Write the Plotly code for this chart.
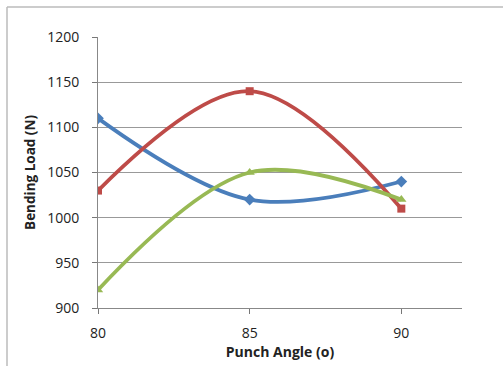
import plotly.graph_objects as go

angles = [80, 85, 90]
series_a = [1110, 1020, 1040]
series_b = [1030, 1140, 1010]
series_c = [920, 1050, 1020]
y_ticks = [900, 950, 1000, 1050, 1100, 1150, 1200]
x_ticks = [80, 85, 90]
x_range = [80, 92]
y_range = [900, 1200]

fig = go.Figure()
for vals, color, sym, sz in [
    (series_a, "#4a7ebb", "diamond", 9),
    (series_b, "#be4b48", "square", 8),
    (series_c, "#98b954", "triangle-up", 9),
]:
    fig.add_trace(go.Scatter(
        x=angles, y=vals, mode="lines+markers",
        line=dict(color=color, width=3.8, shape="spline", smoothing=1),
        marker=dict(symbol=sym, size=sz, color=color),
        showlegend=False,
    ))

# invisible trace holding the overlay axes that draw the visible tick marks
fig.add_trace(go.Scatter(
    x=angles, y=series_a, mode="markers", marker=dict(opacity=0),
    xaxis="x2", yaxis="y2", hoverinfo="skip", showlegend=False,
))

tick_style = dict(ticks="outside", ticklen=5, tickcolor="#777", tickwidth=1)

fig.update_layout(
    width=503, height=366,
    margin=dict(l=98, r=41, t=37, b=58),
    paper_bgcolor="white", plot_bgcolor="white",
    font=dict(family="Open Sans, Liberation Sans, sans-serif", size=13, color="#222"),
    xaxis=dict(
        range=x_range, tickvals=x_ticks, showgrid=False, zeroline=False,
        showline=True, linecolor="#888", linewidth=1,
        ticks="outside", ticklen=12, tickcolor="rgba(0,0,0,0)",
        tickfont=dict(size=14), automargin=False,
        title=dict(text="<b>Punch Angle (o)</b>", font=dict(size=14), standoff=6),
    ),
    yaxis=dict(
        range=y_range, tickvals=y_ticks, showgrid=True, gridcolor="#999",
        gridwidth=1, zeroline=False,
        showline=True, linecolor="#888", linewidth=1,
        ticks="outside", ticklen=15, tickcolor="rgba(0,0,0,0)",
        tickfont=dict(size=14), automargin=False,
        title=dict(text="<b>Bending Load (N)</b>", font=dict(size=13.5), standoff=8),
    ),
    xaxis2=dict(
        range=x_range, tickvals=x_ticks, overlaying="x", anchor="y2", side="bottom",
        showgrid=False, zeroline=False, showline=False, showticklabels=False,
        automargin=False, **tick_style,
    ),
    yaxis2=dict(
        range=y_range, tickvals=y_ticks, overlaying="y", anchor="x2", side="left",
        showgrid=False, zeroline=False, showline=False, showticklabels=False,
        automargin=False, **tick_style,
    ),
    shapes=[
        dict(type="line", xref="paper", yref="paper",
             x0=-91/364, x1=1.5, y0=1 + 30/271, y1=1 + 30/271,
             line=dict(color="#bbb", width=1.5)),
        dict(type="line", xref="paper", yref="paper",
             x0=-91/364, x1=-91/364, y0=1 + 30/271, y1=-0.5,
             line=dict(color="#bbb", width=1.5)),
    ],
)

fig.write_html("out.html")
